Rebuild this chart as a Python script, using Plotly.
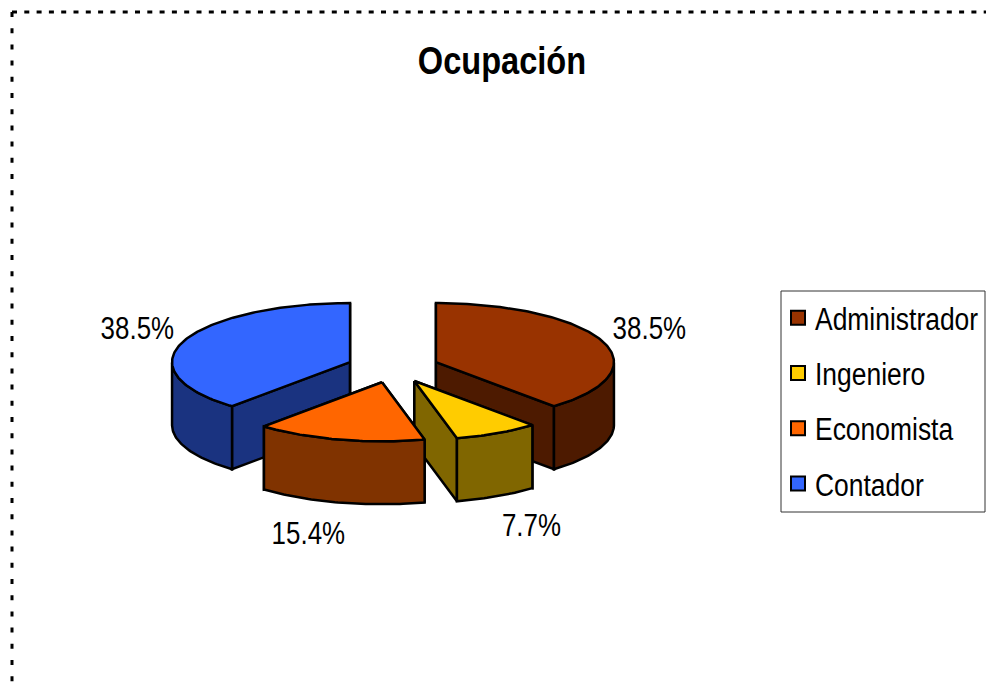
import math
import plotly.graph_objects as go

categories = ["Administrador", "Ingeniero", "Economista", "Contador"]
values = [5, 1, 2, 5]
top_colors = ["#993300", "#FFCC00", "#FF6600", "#3366FF"]
side_colors = ["#4D1A00", "#806600", "#803300", "#1A3380"]
label_xy = [(649, 328), (531, 525), (308, 533), (137, 328)]

W, H = 986, 690
CX, CY = 393, 367.5    # pie centre
RX, RY = 178, 59       # top ellipse radii
DEPTH = 63             # pie thickness
EXPLODE = 0.258        # slice pull, fraction of the radius
FONT = "Liberation Sans, Arial, sans-serif"

total = sum(values)
fig = go.Figure()


def poly(xs, ys, color):
    fig.add_trace(go.Scatter(
        x=xs, y=ys, mode="lines", fill="toself", fillcolor=color,
        line=dict(color="black", width=2.5), hoverinfo="skip", showlegend=False))


# slice geometry, angles clockwise from 12 o'clock
slices = []
start = 0.0
for i, v in enumerate(values):
    sweep = 360.0 * v / total
    mid = math.radians(start + sweep / 2)
    ax = CX + EXPLODE * RX * math.sin(mid)
    ay = CY - EXPLODE * RY * math.cos(mid)
    n = max(6, int(sweep))
    angs = [math.radians(start + sweep * k / n) for k in range(n + 1)]
    ex = [ax + RX * math.sin(a) for a in angs]
    ey = [ay - RY * math.cos(a) for a in angs]
    slices.append(dict(i=i, ax=ax, ay=ay, ex=ex, ey=ey, angs=angs))
    start += sweep

# paint order: back slices first
for i in [3, 0, 1, 2]:
    s = slices[i]
    ax, ay, ex, ey, angs = s["ax"], s["ay"], s["ex"], s["ey"], s["angs"]
    side = side_colors[i]
    # cut faces
    for j in (0, -1):
        poly([ax, ex[j], ex[j], ax, ax],
             [ay, ey[j], ey[j] + DEPTH, ay + DEPTH, ay], side)
    # outer rim: only the part of the arc facing the viewer
    front = [k for k, a in enumerate(angs) if math.cos(a) <= 0]
    if front:
        rx_ = [ex[k] for k in front]
        ry_ = [ey[k] for k in front]
        poly(rx_ + rx_[::-1] + rx_[:1],
             ry_ + [y + DEPTH for y in ry_[::-1]] + ry_[:1], side)
    # top face
    poly([ax] + ex + [ax], [ay] + ey + [ay], top_colors[i])

# legend entries
for name, color in zip(categories, top_colors):
    fig.add_trace(go.Scatter(
        x=[None], y=[None], mode="markers", name=name, legendgroup=name,
        marker=dict(symbol="square", size=14, color=color,
                    line=dict(color="black", width=2))))

# percentage labels
for v, (lx, ly) in zip(values, label_xy):
    fig.add_annotation(x=lx, y=ly, text=f"{100 * v / total:.1f}%", showarrow=False,
                       font=dict(family=FONT, size=32, color="black"))

# dotted chart border
fig.add_shape(type="line", x0=12, y0=12, x1=W, y1=12,
              line=dict(color="black", width=3, dash="5px,7.3px"))
fig.add_shape(type="line", x0=12, y0=12, x1=12, y1=H,
              line=dict(color="black", width=3, dash="5px,11.2px"))
# legend box
fig.add_shape(type="rect", x0=781, y0=291, x1=985, y1=512, layer="below",
              fillcolor="white", line=dict(color="#333333", width=1))

fig.update_layout(
    width=W, height=H, autosize=False,
    margin=dict(l=0, r=0, t=0, b=0, autoexpand=False),
    paper_bgcolor="white", plot_bgcolor="rgba(0,0,0,0)",
    title=dict(text="<b>Ocupación</b>", x=502 / W, xanchor="center",
               y=1 - 61 / H, yanchor="middle",
               font=dict(family=FONT, size=38, color="black")),
    xaxis=dict(range=[0, W], visible=False, fixedrange=True),
    yaxis=dict(range=[H, 0], visible=False, fixedrange=True),
    legend=dict(x=778 / W, y=1 - 291 / H, xanchor="left", yanchor="top",
                bgcolor="rgba(0,0,0,0)", borderwidth=0,
                tracegroupgap=12, traceorder="grouped",
                entrywidth=166, entrywidthmode="pixels",
                font=dict(family=FONT, size=31, color="black")),
)

# Page margin off, and the condensed look of the original lettering
post = """
document.body.style.margin = '0';
function squeeze(sel, k, dx) {
  document.querySelectorAll(sel).forEach(function (t) {
    t.setAttribute('textLength', t.getComputedTextLength() * k);
    t.setAttribute('lengthAdjust', 'spacingAndGlyphs');
    if (dx) { t.setAttribute('x', parseFloat(t.getAttribute('x')) + dx); }
  });
}
squeeze('.gtitle', 0.857, 0);
squeeze('.legendtext', 0.853, -3);
squeeze('.annotation-text', 0.81, 0);
document.querySelectorAll('.legend [clip-path], .legend .scrollbox').forEach(function (e) {
  e.removeAttribute('clip-path');
  e.style.clipPath = 'none';
});
"""
fig.write_html("out.html", post_script=post, config={"displayModeBar": False})
